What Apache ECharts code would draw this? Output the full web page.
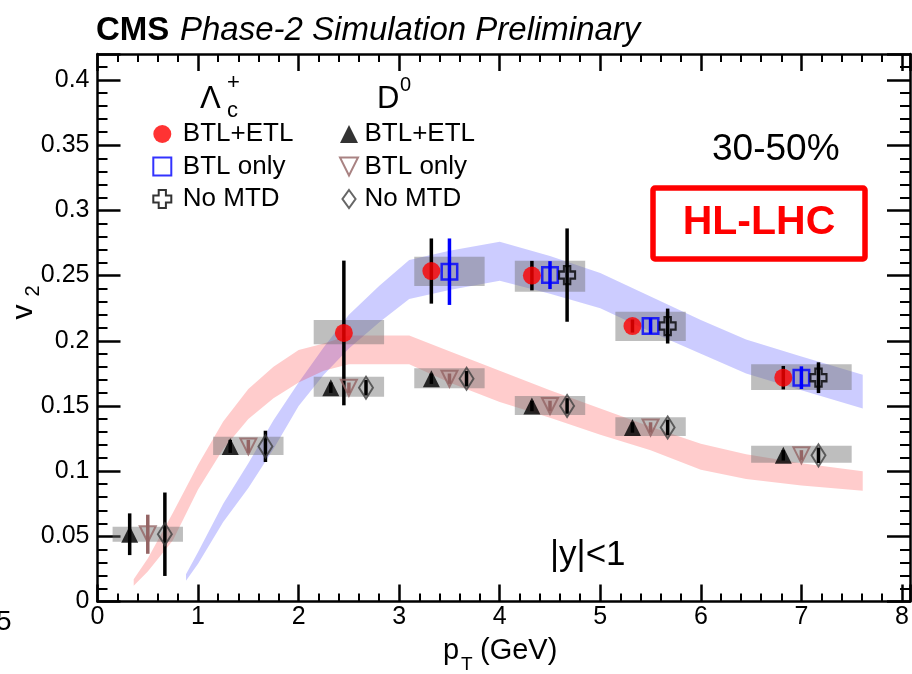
<!DOCTYPE html>
<html>
<head>
<meta charset="utf-8">
<script src="https://cdn.jsdelivr.net/npm/echarts@6/dist/echarts.min.js"></script>
<style>
  html, body { margin: 0; padding: 0; background: #fff; }
  #chart { width: 912px; height: 674px; }
</style>
</head>
<body>
<div id="chart"></div>
<script>
// ---------------- data ----------------
// Lambda_c+ v2 vs pT
const lcFullX = [2.45, 3.32, 4.32, 5.32, 6.82];
const lcFullV = [0.206, 0.2535, 0.250, 0.2113, 0.1717];
const lcFullE = [0.0555, 0.025, 0.0113, 0.005, 0.009];

const lcBtlX = [3.5, 4.5, 5.5, 7.0];
const lcBtlV = [0.253, 0.2504, 0.2113, 0.1717];
const lcBtlE = [0.0255, 0.0107, 0.006, 0.0087];

const lcNoX = [4.67, 5.67, 7.17];
const lcNoV = [0.2504, 0.2113, 0.1717];
const lcNoE = [0.0358, 0.0134, 0.0118];

// D0 v2 vs pT
const d0FullX = [0.32, 1.32, 2.32, 3.32, 4.32, 5.32, 6.82];
const d0FullV = [0.0516, 0.119, 0.164, 0.1709, 0.150, 0.1335, 0.1121];
const d0FullE = [0.016, 0.005, 0.004, 0.004, 0.004, 0.004, 0.004];

const d0BtlX = [0.5, 1.5, 2.5, 3.5, 4.5, 5.5, 7.0];
const d0BtlV = [0.0516, 0.119, 0.164, 0.1709, 0.150, 0.1335, 0.1121];
const d0BtlE = [0.015, 0.005, 0.004, 0.004, 0.004, 0.004, 0.004];

const d0NoX = [0.67, 1.67, 2.67, 3.67, 4.67, 5.67, 7.17];
const d0NoV = [0.0516, 0.119, 0.164, 0.1709, 0.150, 0.1335, 0.1121];
const d0NoE = [0.032, 0.012, 0.006, 0.006, 0.006, 0.006, 0.006];

// systematic boxes: [pT low, pT high, v2 low, v2 high]
const lcSys = [
  [2.15, 2.85, 0.1973, 0.2159],
  [3.15, 3.85, 0.2420, 0.2645],
  [4.15, 4.85, 0.2376, 0.2614],
  [5.15, 5.85, 0.1998, 0.2223],
  [6.50, 7.50, 0.1622, 0.1820]
];
const d0Sys = [
  [0.15, 0.85, 0.0459, 0.0574],
  [1.15, 1.85, 0.1124, 0.1264],
  [2.15, 2.85, 0.1570, 0.1724],
  [3.15, 3.85, 0.1635, 0.1790],
  [4.15, 4.85, 0.1430, 0.1576],
  [5.15, 5.85, 0.1269, 0.1413],
  [6.50, 7.50, 0.1065, 0.1195]
];

// model bands
const lcBandX  = [0.88, 1.0, 1.25, 1.5, 1.75, 2.0, 2.25, 2.5, 2.8, 3.1, 3.5, 4.0, 4.5, 5.0, 5.5, 6.0, 6.45, 7.0, 7.61];
const lcBandHi = [0.021, 0.038, 0.075, 0.106, 0.139, 0.168, 0.195, 0.220, 0.242, 0.262, 0.269, 0.276, 0.265, 0.252, 0.234, 0.216, 0.201, 0.188, 0.174];
const lcBandLo = [0.016, 0.029, 0.061, 0.087, 0.117, 0.150, 0.174, 0.194, 0.214, 0.232, 0.239, 0.246, 0.236, 0.225, 0.207, 0.190, 0.175, 0.162, 0.148];

const d0BandX  = [0.36, 0.5, 0.75, 1.0, 1.25, 1.5, 1.75, 2.0, 2.25, 2.5, 3.1, 3.5, 4.0, 4.5, 5.0, 5.5, 6.0, 6.45, 7.0, 7.61];
const d0BandHi = [0.017, 0.033, 0.068, 0.105, 0.138, 0.163, 0.180, 0.193, 0.198, 0.204, 0.204, 0.192, 0.177, 0.162, 0.148, 0.134, 0.121, 0.113, 0.106, 0.100];
const d0BandLo = [0.012, 0.023, 0.047, 0.086, 0.117, 0.140, 0.156, 0.168, 0.177, 0.182, 0.182, 0.168, 0.153, 0.141, 0.128, 0.116, 0.101, 0.094, 0.089, 0.085];

// series names (legend text is the part after the particle tag)
const lcNames = ['Λc+ BTL+ETL', 'Λc+ BTL only', 'Λc+ No MTD'];
const d0Names = ['D0 BTL+ETL', 'D0 BTL only', 'D0 No MTD'];

// ---------------- drawing ----------------
const FONT = '"Liberation Sans", Arial, Helvetica, sans-serif';
const zip = (xs, vs) => xs.map((x, i) => [x, vs[i]]);

function bandSeries(xs, lo, hi, fill) {
  return {
    type: 'custom', z: 1, silent: true, clip: false,
    data: xs.map((x, i) => [x, lo[i], hi[i]]),
    encode: { x: 0, y: [1, 2] },
    renderItem: (params, api) => {
      if (params.dataIndex !== 0) return null;
      const pts = [];
      for (let i = 0; i < xs.length; i++) pts.push(api.coord([xs[i], hi[i]]));
      for (let i = xs.length - 1; i >= 0; i--) pts.push(api.coord([xs[i], lo[i]]));
      return { type: 'polygon', shape: { points: pts }, style: { fill: fill } };
    }
  };
}

function boxSeries(rows) {
  return {
    type: 'custom', z: 1, silent: true,
    data: rows,
    encode: { x: [0, 1], y: [2, 3] },
    renderItem: (params, api) => {
      const a = api.coord([api.value(0), api.value(3)]);
      const b = api.coord([api.value(1), api.value(2)]);
      return {
        type: 'rect',
        shape: { x: a[0], y: a[1], width: b[0] - a[0], height: b[1] - a[1] },
        style: { fill: 'rgba(110,110,110,0.45)' }
      };
    }
  };
}

function errSeries(xs, vs, es, color) {
  return {
    type: 'custom', z: 2, silent: true,
    data: xs.map((x, i) => [x, vs[i], es[i]]),
    encode: { x: 0, y: 1 },
    renderItem: (params, api) => {
      const x = api.value(0), v = api.value(1), e = api.value(2);
      const p1 = api.coord([x, v - e]);
      const p2 = api.coord([x, v + e]);
      return {
        type: 'line',
        shape: { x1: p1[0], y1: p1[1], x2: p2[0], y2: p2[1] },
        style: { stroke: color, lineWidth: 3.5 }
      };
    }
  };
}

function markerSeries(name, xs, vs, symbol, size, itemStyle) {
  return {
    name: name, type: 'scatter', z: 3, silent: true,
    data: zip(xs, vs), symbol: symbol, symbolSize: size,
    itemStyle: itemStyle, emphasis: { disabled: true }
  };
}

// marker shapes (path aspect ratios also set the legend icon shapes)
const SQUARE = 'path://M0,0 L10,0 L10,10 L0,10 Z';
const CROSS = 'path://M-1.2,-3 L1.2,-3 L1.2,-1.2 L3,-1.2 L3,1.2 L1.2,1.2 L1.2,3 L-1.2,3 L-1.2,1.2 L-3,1.2 L-3,-1.2 L-1.2,-1.2 Z';
const UP_TRI = 'path://M8,0 L16,16 L0,16 Z';
const DOWN_TRI = 'path://M0,0 L16,0 L8,16 Z';
const DIAMOND = 'path://M8,0 L16,11 L8,22 L0,11 Z';
const NONE = 'rgba(0,0,0,0)';

function xAxisDef(pos) {
  return {
    type: 'value', min: 0, max: 8.08, interval: 1, position: pos,
    axisLine: { show: true, onZero: false, lineStyle: { color: '#000', width: 2.5 } },
    axisTick: { show: true, inside: true, length: 17, lineStyle: { color: '#000', width: 2.5 } },
    minorTick: { show: true, splitNumber: 5, length: 8, lineStyle: { color: '#000', width: 2 } },
    splitLine: { show: false },
    axisLabel: {
      show: pos === 'bottom', margin: 3, fontSize: 25, fontFamily: FONT, color: '#000',
      showMaxLabel: false,
      formatter: v => (Math.abs(v - Math.round(v)) < 1e-9 ? String(Math.round(v)) : '')
    }
  };
}
function yAxisDef(pos) {
  return {
    type: 'value', min: 0, max: 0.42, interval: 0.05, position: pos,
    axisLine: { show: true, onZero: false, lineStyle: { color: '#000', width: 2.5 } },
    axisTick: { show: true, inside: true, length: 23, lineStyle: { color: '#000', width: 2.5 } },
    minorTick: { show: true, splitNumber: 5, length: 10, lineStyle: { color: '#000', width: 2 } },
    splitLine: { show: false },
    axisLabel: {
      show: pos === 'left', margin: 8, fontSize: 25, fontFamily: FONT, color: '#000',
      showMaxLabel: false
    }
  };
}

function legendDef(names, left, itemWidth) {
  return {
    data: names, orient: 'vertical', left: left, top: 121, padding: 0,
    itemWidth: itemWidth, itemHeight: 18, itemGap: 6.5, selectedMode: false,
    symbolKeepAspect: true,
    formatter: n => n.split(' ').slice(1).join(' '),
    textStyle: { fontSize: 26, fontFamily: FONT, color: '#000', lineHeight: 22 }
  };
}

function txt(text, x, y, font, opts) {
  return Object.assign({
    type: 'text', x: x, y: y, silent: true,
    style: Object.assign({ text: text, font: font, fill: '#000', align: 'left', verticalAlign: 'middle' }, (opts && opts.style) || {})
  }, (opts && opts.el) || {});
}

const chart = echarts.init(document.getElementById('chart'), null, { renderer: 'canvas' });

chart.setOption({
  animation: false,
  backgroundColor: '#fff',
  grid: { left: 97.5, right: 2, top: 54, bottom: 72.5, containLabel: false },
  xAxis: [xAxisDef('bottom'), xAxisDef('top')],
  yAxis: [yAxisDef('left'), yAxisDef('right')],
  legend: [legendDef(lcNames, 152.3, 31), legendDef(d0Names, 339, 21)],
  series: [
    bandSeries(lcBandX, lcBandLo, lcBandHi, 'rgba(0,0,255,0.2)'),
    bandSeries(d0BandX, d0BandLo, d0BandHi, 'rgba(255,0,0,0.2)'),
    boxSeries(lcSys),
    boxSeries(d0Sys),
    errSeries(lcFullX, lcFullV, lcFullE, '#000'),
    errSeries(lcBtlX, lcBtlV, lcBtlE, '#0000ff'),
    errSeries(lcNoX, lcNoV, lcNoE, '#000'),
    errSeries(d0FullX, d0FullV, d0FullE, '#000'),
    errSeries(d0BtlX, d0BtlV, d0BtlE, '#946464'),
    errSeries(d0NoX, d0NoV, d0NoE, '#000'),
    markerSeries(lcNames[0], lcFullX, lcFullV, 'circle', 18, { color: '#ff0000' }),
    markerSeries(lcNames[1], lcBtlX, lcBtlV, SQUARE, 15.5, { color: NONE, borderColor: '#0000ff', borderWidth: 2.5 }),
    markerSeries(lcNames[2], lcNoX, lcNoV, CROSS, [16, 18], { color: NONE, borderColor: '#000', borderWidth: 2.2 }),
    markerSeries(d0Names[0], d0FullX, d0FullV, UP_TRI, 17, { color: '#000' }),
    markerSeries(d0Names[1], d0BtlX, d0BtlV, DOWN_TRI, 16, { color: NONE, borderColor: '#946464', borderWidth: 2 }),
    markerSeries(d0Names[2], d0NoX, d0NoV, DIAMOND, [14, 22], { color: NONE, borderColor: '#404040', borderWidth: 2 })
  ],
  graphic: [
    // header
    txt('CMS', 96, 31, 'bold 33px ' + FONT),
    txt('Phase-2 Simulation Preliminary', 180, 31, 'italic 33px ' + FONT),
    // legend column headers
    txt('Λ', 200, 99, '31px ' + FONT),
    txt('c', 227, 111, '22px ' + FONT),
    txt('+', 227, 83, '22px ' + FONT),
    txt('D', 377, 99, '31px ' + FONT),
    txt('0', 400, 85, '20px ' + FONT),
    // annotations
    txt('30-50%', 712, 150, '37px ' + FONT),
    {
      type: 'rect', silent: true,
      shape: { x: 653, y: 188, width: 212, height: 71, r: 2 },
      style: { fill: NONE, stroke: '#ff0000', lineWidth: 5.5 }
    },
    txt('HL-LHC', 759, 223, 'bold 41px ' + FONT, { style: { fill: '#ff0000', align: 'center' } }),
    txt('|y|<1', 550, 555, '35px ' + FONT),
    // axis titles
    txt('p', 443, 651, '29px ' + FONT),
    txt('T', 461, 665, '19px ' + FONT),
    txt('(GeV)', 480, 651, '29px ' + FONT),
    txt('v', 23.5, 312, '30px ' + FONT, { style: { align: 'center' }, el: { rotation: Math.PI / 2 } }),
    txt('2', 33, 291, '20px ' + FONT, { style: { align: 'center' }, el: { rotation: Math.PI / 2 } }),
    // edge of neighbouring panel label
    txt('5', -4, 622, '28px ' + FONT)
  ]
});
</script>
</body>
</html>
